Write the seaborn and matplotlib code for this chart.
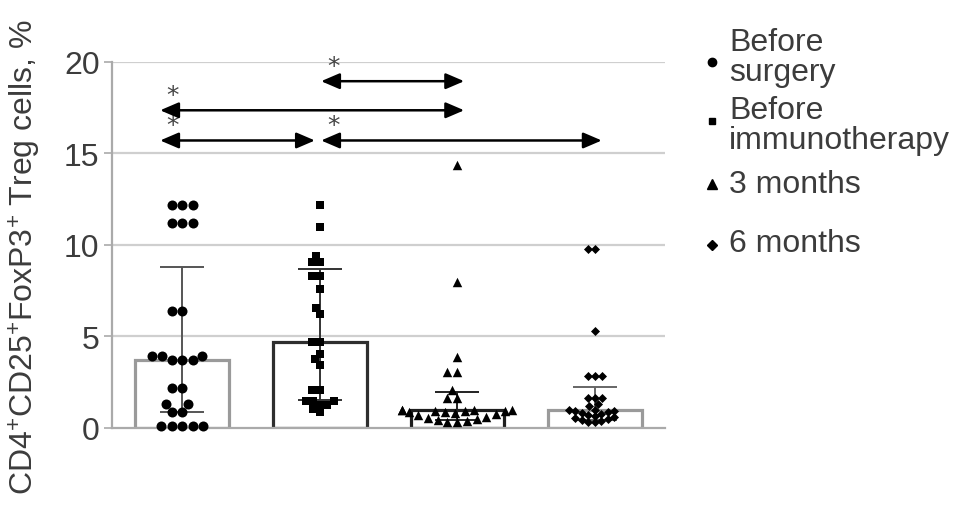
import pandas as pd
import matplotlib
matplotlib.use("Agg")
import matplotlib.pyplot as plt
import seaborn as sns
from matplotlib.lines import Line2D

# group labels
groups = ["Before\nsurgery", "Before\nimmunotherapy", "3 months", "6 months"]

# individual patient values, % Treg cells
before_surgery = [12.2, 12.2, 12.2, 11.2, 11.2, 11.2, 6.4, 6.4,
                  3.95, 3.95, 3.95, 3.7, 3.7, 3.7, 2.2, 2.2, 1.3, 1.3,
                  0.85, 0.85, 0.1, 0.1, 0.1, 0.1, 0.1]
before_immuno = [12.2, 11.0, 9.4, 9.05, 9.05, 8.3, 8.3, 7.6, 6.55, 6.2,
                 4.7, 4.7, 4.05, 3.75, 3.45, 2.05, 2.05, 1.45, 1.45, 1.45,
                 1.25, 1.25, 1.05, 0.85]
three_months = [14.35, 7.95, 3.85, 3.05, 3.05, 2.07, 1.62, 1.62,
                1.0, 1.0, 1.0, 0.97, 0.95, 0.93, 0.9, 0.88, 0.85, 0.8,
                0.75, 0.7, 0.6, 0.55, 0.5, 0.45, 0.4, 0.35, 0.3]
six_months = [9.8, 9.8, 5.3, 2.85, 2.85, 2.85, 1.65, 1.65, 1.65, 1.3,
              1.2, 1.0, 1.0, 0.95, 0.9, 0.85, 0.8, 0.75, 0.7, 0.65,
              0.6, 0.55, 0.5, 0.45, 0.4, 0.35, 0.3]

# bar (median) and error bar ends
bar_heights = [3.7, 4.7, 1.0, 1.0]
err_low = [0.85, 1.5, 0.45, 0.45]
err_high = [8.8, 8.7, 1.95, 2.25]

# significant comparisons (group index pairs)
sig_pairs = [(1, 2), (0, 2), (0, 1), (1, 3)]

# ---- styling ----
markers = ["o", "s", "^", "D"]
marker_sizes = [7.2, 5.2, 6.8, 4.6]
bar_edges = ["#9a9a9a", "#2e2e2e", "#1e1e1e", "#9a9a9a"]
err_colors = ["#555555", "#333333", "#222222", "#666666"]
text_color = "#3c3c3c"
sig_levels = [18.95, 17.36, 15.71, 15.71]

sns.set_style("white")
plt.rcParams["font.family"] = ["Liberation Sans", "DejaVu Sans"]
plt.rcParams["mathtext.fontset"] = "custom"
plt.rcParams["mathtext.rm"] = "Liberation Sans"
plt.rcParams["mathtext.it"] = "Liberation Sans"

fig = plt.figure(figsize=(9.69, 5.10), dpi=100)
ax = fig.add_axes([0.1156, 0.159, 0.5707, 0.7175])

points = pd.DataFrame({
    "group": [groups[0]] * len(before_surgery) + [groups[1]] * len(before_immuno)
             + [groups[2]] * len(three_months) + [groups[3]] * len(six_months),
    "value": before_surgery + before_immuno + three_months + six_months,
})
bars = pd.DataFrame({"group": groups, "height": bar_heights})

# grid lines
for yv in [5, 10, 15, 20]:
    ax.axhline(yv, color="#cfcfcf", lw=1.6, zorder=0)

sns.barplot(data=bars, x="group", y="height", hue="group", order=groups,
            palette=bar_edges, fill=False, linewidth=2.3, width=0.68,
            errorbar=None, legend=False, ax=ax, zorder=2)

for i, g in enumerate(groups):
    h = bar_heights[i]
    ax.errorbar(i, h, yerr=[[h - err_low[i]], [err_high[i] - h]],
                color=err_colors[i], lw=1.4, capsize=16, capthick=1.4,
                zorder=3)

for i, g in enumerate(groups):
    sns.swarmplot(data=points[points["group"] == g], x="group", y="value",
                  order=groups, marker=markers[i], size=marker_sizes[i],
                  color="black", linewidth=0, ax=ax, zorder=4, clip_on=False,
                  warn_thresh=1)

# significance arrows
for (a, b), lvl in zip(sig_pairs, sig_levels):
    x0 = a - 0.16 if a == 0 else a + 0.01
    x1 = b - 0.035 if b == 1 else b + 0.05
    ax.annotate("", xy=(x1, lvl), xytext=(x0, lvl),
                arrowprops=dict(arrowstyle="<|-|>,head_length=0.7,head_width=0.3",
                                mutation_scale=16, lw=1.8, color="black",
                                shrinkA=0, shrinkB=0),
                annotation_clip=False, zorder=5)
    ax.text(x0 + 0.09, lvl + 0.45, "*", ha="center", va="baseline",
            fontsize=18, family="DejaVu Sans", color="#444444",
            clip_on=False)

ax.set_xlim(-0.51, 3.51)
ax.set_ylim(0, 20)
ax.set_yticks([0, 5, 10, 15, 20])
ax.set_xticks([])
ax.set_xlabel("")
ax.set_ylabel(r"CD4$^{+}$CD25$^{+}$FoxP3$^{+}$ Treg cells, %",
              fontsize=23, color=text_color)
ax.yaxis.set_label_coords(-0.125, 0.47)
ax.tick_params(axis="y", labelsize=23, labelcolor=text_color, length=6,
               width=1.2, color="#aaaaaa", pad=3, left=True)
for side in ["top", "right"]:
    ax.spines[side].set_visible(False)
ax.spines["left"].set_color("#aaaaaa")
ax.spines["left"].set_linewidth(1.6)
ax.spines["bottom"].set_color("#aaaaaa")
ax.spines["bottom"].set_linewidth(1.6)

# legend drawn by hand to the right of the plot
legend_text_y = [58, 126, 185, 244]
legend_marker_y = [63, 122, 185, 246]
legend_msize = [6, 5, 7, 5]
W, H = 969, 510
for i, g in enumerate(groups):
    fig.add_artist(Line2D([712 / W], [1 - legend_marker_y[i] / H],
                          marker=markers[i], markersize=legend_msize[i],
                          color="black", linestyle="none",
                          transform=fig.transFigure))
    fig.text(729 / W, 1 - legend_text_y[i] / H, g, fontsize=23,
             color=text_color, ha="left", va="center", linespacing=1.0)

fig.savefig("out.png", dpi=100)
